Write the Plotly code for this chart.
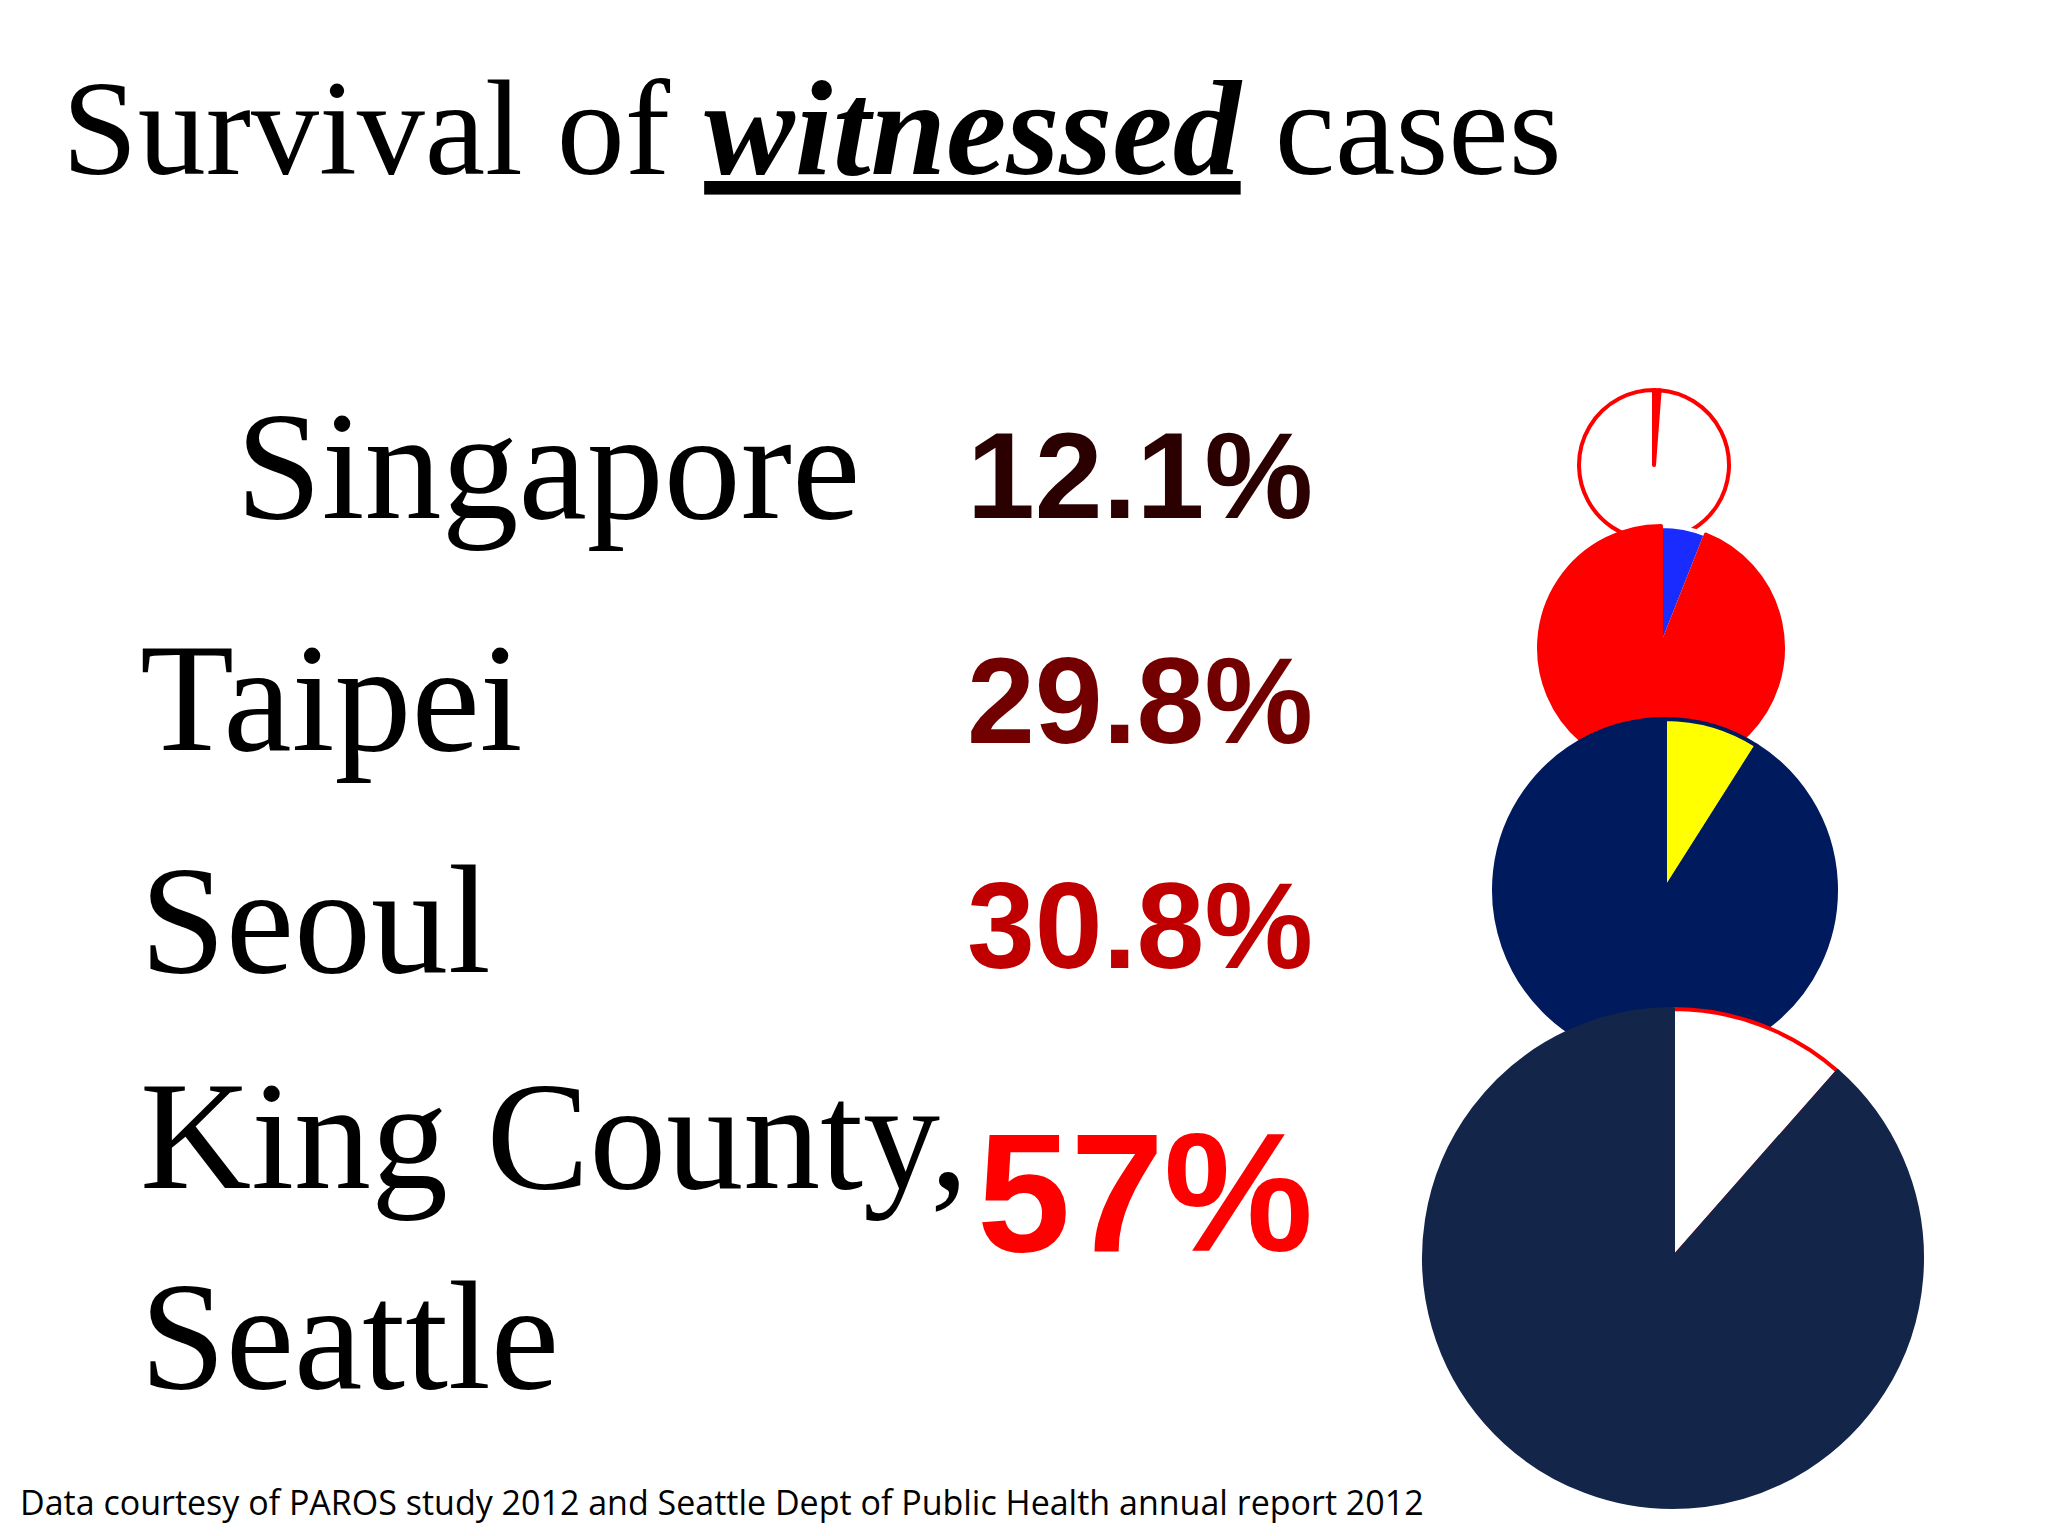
import plotly.graph_objects as go

W, H = 2048, 1536
cities = ["Singapore", "Taipei", "Seoul", "King County,<br>Seattle"]
survival_labels = ["12.1%", "29.8%", "30.8%", "57%"]
slice_values = [1.2, 6.0, 9.0, 11.5]
pie_main_colors = ["#ffffff", "#ff0000", "#001a5e", "#14254a"]
pie_slice_colors = ["#ff0000", "#1a2bff", "#ffff00", "#ffffff"]
pie_line_colors = [["#ff0000", "#ff0000"], ["#ffffff", "#ff0000"], ["#001a5e", "#001a5e"], ["#ff0000", "#14254a"]]
pie_geom = [(1646, 457, 75), (1653, 640, 122), (1657, 882, 171), (1665, 1250, 249)]

fig = go.Figure()
for i in range(4):
    cx, cy, r = pie_geom[i]
    fig.add_trace(go.Pie(
        values=[slice_values[i], 100 - slice_values[i]],
        sort=False, direction="clockwise", rotation=0,
        marker=dict(colors=[pie_slice_colors[i], pie_main_colors[i]],
                    line=dict(color=pie_line_colors[i], width=4)),
        textinfo="none", hoverinfo="skip", showlegend=False,
        domain=dict(x=[(cx - r) / W, (cx + r) / W], y=[1 - (cy + r) / H, 1 - (cy - r) / H]),
    ))

ann = []
ann.append(dict(x=52, y=120, text="Survival of <b><i><u>witnessed</u></i></b> cases",
                font=dict(family="Liberation Serif", size=136, color="black"), xanchor="left"))
city_pos = [(226, 458), (130, 690), (130, 912), (130, 1228)]
for (x, y), t in zip(city_pos, cities):
    ann.append(dict(x=x, y=y, text=t, xanchor="left", align="left",
                    font=dict(family="Liberation Serif", size=154, color="black")))
pct_colors = ["#2a0000", "#730000", "#c00000", "#ff0000"]
pct_pos = [(1307, 468), (1307, 693), (1307, 918), (1307, 1185)]
pct_sizes = [122, 122, 122, 168]
for (x, y), t, c, s in zip(pct_pos, survival_labels, pct_colors, pct_sizes):
    ann.append(dict(x=x, y=y, text="<b>" + t + "</b>", xanchor="right",
                    font=dict(family="Liberation Sans Narrow, Liberation Sans", size=s, color=c)))
ann.append(dict(x=10, y=1494, text="Data courtesy of PAROS study 2012 and Seattle Dept of Public Health annual report 2012",
                xanchor="left", font=dict(family="Open Sans", size=34, color="black")))
for a in ann:
    a.update(xref="x", yref="y", showarrow=False, yanchor="middle")

fig.update_layout(
    width=W, height=H, margin=dict(l=0, r=0, t=0, b=0),
    paper_bgcolor="white", plot_bgcolor="rgba(0,0,0,0)",
    xaxis=dict(range=[0, W], visible=False, fixedrange=True),
    yaxis=dict(range=[H, 0], visible=False, fixedrange=True),
    annotations=ann,
)
fig.write_html("out.html")
